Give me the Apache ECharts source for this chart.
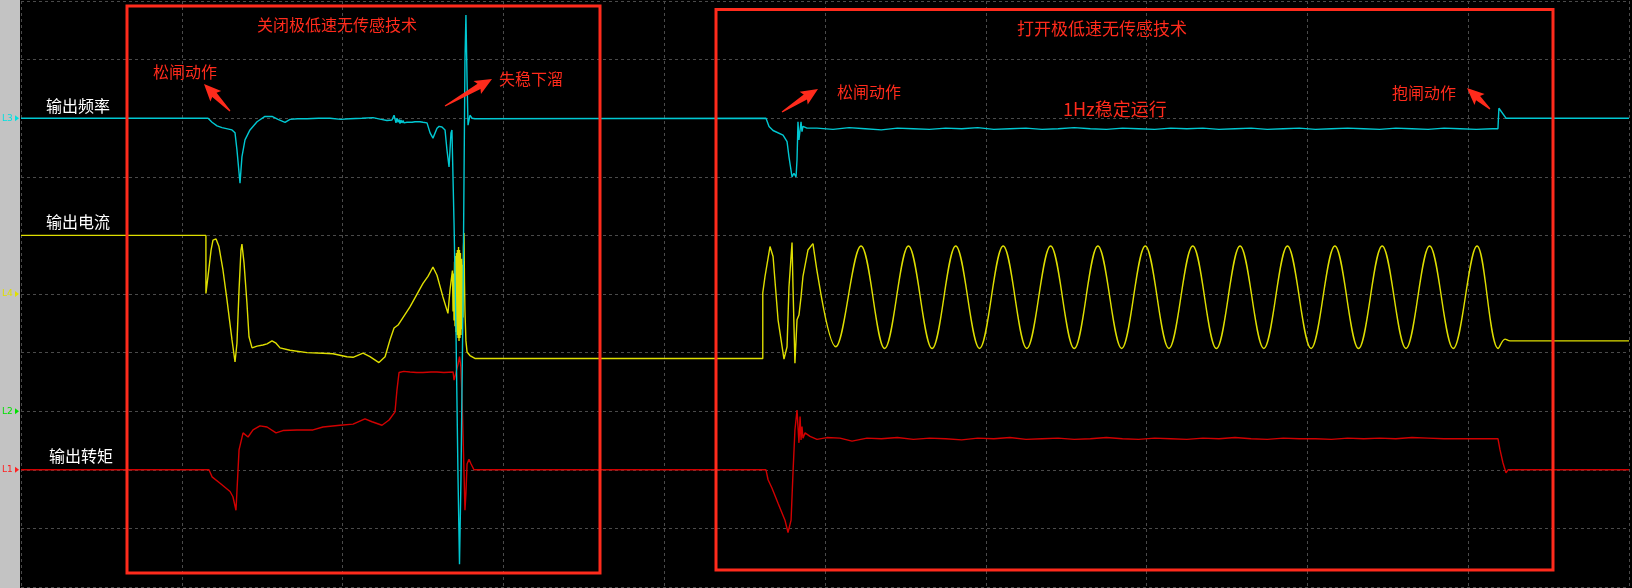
<!DOCTYPE html>
<html><head><meta charset="utf-8">
<script src="https://cdn.jsdelivr.net/npm/echarts@6/dist/echarts.min.js"></script>
<style>html,body{margin:0;padding:0;background:#000;overflow:hidden}#c{width:1632px;height:588px}</style>
</head><body><div id="c"></div>
<script>
// x: time in screen divisions (0..10), y: level in screen divisions (0..10)
const freqData = [[0,8.0],[1.163,8.0],[1.188,7.93],[1.219,7.87],[1.25,7.84],[1.312,7.80],[1.331,7.75],[1.343,7.46],[1.362,6.89],[1.374,7.34],[1.393,7.63],[1.424,7.80],[1.468,7.94],[1.517,8.03],[1.561,8.03],[1.598,7.98],[1.642,7.93],[1.673,7.98],[1.72,7.99],[1.779,7.99],[1.85,8.0],[1.922,8.0],[1.99,7.98],[2.046,7.99],[2.12,8.0],[2.189,8.01],[2.24,7.98],[2.276,7.96],[2.307,7.97],[2.320,8.05],[2.332,7.92],[2.338,8.0],[2.345,7.93],[2.351,7.98],[2.357,7.91],[2.363,7.97],[2.369,7.92],[2.376,7.96],[2.382,7.92],[2.39,7.95],[2.400,7.93],[2.41,7.95],[2.432,7.93],[2.45,7.94],[2.481,7.94],[2.50,7.93],[2.525,7.92],[2.544,7.75],[2.562,7.66],[2.587,7.83],[2.600,7.86],[2.618,7.85],[2.637,7.80],[2.649,7.46],[2.662,7.17],[2.674,7.75],[2.680,7.80],[2.693,6.21],[2.705,4.39],[2.718,1.83],[2.727,0.39],[2.736,1.83],[2.749,4.90],[2.761,8.99],[2.767,9.76],[2.774,8.65],[2.780,7.88],[2.792,8.05],[2.805,8.00],[2.823,7.99],[4.633,8.0],[4.652,7.86],[4.677,7.79],[4.739,7.71],[4.764,7.60],[4.776,7.34],[4.795,7.00],[4.807,7.06],[4.820,7.00],[4.826,7.29],[4.832,7.94],[4.838,7.63],[4.851,7.94],[4.857,7.77],[4.863,7.86],[4.888,7.83],[4.95,7.83],[5.05,7.81],[5.15,7.84],[5.25,7.82],[5.35,7.80],[5.45,7.83],[5.55,7.82],[5.65,7.81],[5.75,7.83],[5.85,7.82],[5.95,7.84],[6.05,7.81],[6.15,7.82],[6.25,7.83],[6.35,7.81],[6.45,7.82],[6.55,7.84],[6.65,7.82],[6.75,7.81],[6.85,7.83],[6.95,7.82],[7.05,7.81],[7.15,7.83],[7.25,7.82],[7.35,7.83],[7.45,7.81],[7.55,7.82],[7.65,7.83],[7.75,7.81],[7.85,7.82],[7.95,7.83],[8.05,7.81],[8.15,7.82],[8.25,7.83],[8.35,7.82],[8.45,7.81],[8.55,7.83],[8.65,7.82],[8.75,7.81],[8.85,7.83],[8.95,7.82],[9.05,7.81],[9.15,7.82],[9.185,7.82],[9.191,8.17],[9.235,8.0],[10,8.0]];

const currentData = [[0,6.0],[1.150,6.0],[1.150,5.01],[1.163,5.30],[1.182,5.75],[1.194,5.92],[1.213,5.94],[1.231,5.81],[1.256,5.41],[1.281,4.90],[1.312,4.22],[1.331,3.84],[1.343,4.16],[1.356,5.07],[1.368,5.75],[1.374,5.85],[1.387,5.53],[1.405,4.85],[1.418,4.27],[1.437,4.08],[1.468,4.11],[1.505,4.13],[1.530,4.15],[1.561,4.20],[1.586,4.16],[1.611,4.08],[1.673,4.04],[1.779,4.00],[1.878,3.99],[1.940,3.98],[2.027,3.93],[2.065,3.92],[2.127,3.99],[2.170,3.93],[2.226,3.83],[2.264,3.93],[2.295,4.22],[2.320,4.42],[2.345,4.47],[2.419,4.78],[2.500,5.18],[2.531,5.30],[2.562,5.46],[2.587,5.32],[2.624,4.95],[2.655,4.67],[2.668,5.07],[2.683,5.40],[2.687,4.70],[2.690,5.35],[2.693,4.55],[2.696,5.55],[2.699,4.45],[2.702,5.65],[2.705,4.35],[2.708,5.70],[2.711,4.30],[2.714,5.75],[2.718,4.25],[2.721,5.80],[2.724,4.20],[2.727,5.75],[2.730,4.25],[2.733,5.70],[2.736,4.30],[2.740,5.60],[2.743,4.40],[2.746,5.50],[2.749,4.60],[2.752,5.80],[2.755,6.04],[2.758,5.20],[2.761,4.70],[2.767,4.20],[2.774,4.01],[2.792,3.95],[2.823,3.90],[4.613,3.90],[4.613,5.02],[4.627,5.30],[4.658,5.81],[4.677,5.64],[4.708,4.56],[4.745,3.89],[4.764,4.10],[4.776,5.12],[4.795,5.88],[4.801,5.12],[4.813,3.82],[4.826,4.56],[4.838,4.64],[4.851,4.95],[4.863,5.30],[4.894,5.75],[4.925,5.86]];

const currentSine = [[4.925,5.86],[5.067,4.10],[5.224,5.82],[5.371,4.07],[5.519,5.82],[5.666,4.07],[5.813,5.82],[5.961,4.07],[6.108,5.82],[6.255,4.07],[6.403,5.82],[6.550,4.07],[6.697,5.82],[6.845,4.07],[6.992,5.82],[7.139,4.07],[7.287,5.82],[7.434,4.07],[7.581,5.82],[7.729,4.07],[7.876,5.82],[8.023,4.07],[8.171,5.82],[8.318,4.07],[8.465,5.82],[8.613,4.07],[8.760,5.82],[8.907,4.07],[9.055,5.82],[9.187,4.07],[9.229,4.23],[9.26,4.20],[10,4.20]];

const torqueData = [[0,2.0],[1.169,2.0],[1.188,1.88],[1.238,1.77],[1.300,1.63],[1.318,1.54],[1.337,1.31],[1.356,2.34],[1.368,2.37],[1.381,2.63],[1.393,2.63],[1.412,2.56],[1.443,2.68],[1.486,2.75],[1.530,2.73],[1.586,2.63],[1.629,2.67],[1.716,2.68],[1.816,2.68],[1.878,2.73],[1.984,2.76],[2.065,2.78],[2.139,2.87],[2.183,2.82],[2.245,2.76],[2.289,2.85],[2.326,2.99],[2.338,3.36],[2.351,3.66],[2.38,3.68],[2.419,3.67],[2.46,3.66],[2.500,3.66],[2.55,3.67],[2.587,3.67],[2.63,3.66],[2.687,3.67],[2.693,3.53],[2.705,3.53],[2.718,3.80],[2.727,3.93],[2.736,3.75],[2.743,3.20],[2.749,2.60],[2.761,1.31],[2.767,1.60],[2.774,2.10],[2.786,2.18],[2.799,2.10],[2.817,2.00],[4.633,2.0],[4.646,1.83],[4.670,1.69],[4.708,1.43],[4.751,1.14],[4.770,0.93],[4.789,1.14],[4.801,1.95],[4.813,2.68],[4.826,3.02],[4.832,3.04],[4.838,2.46],[4.845,2.91],[4.851,2.51],[4.857,2.74],[4.863,2.54],[4.876,2.63],[4.907,2.57],[4.950,2.52],[5.012,2.55],[5.093,2.54],[5.168,2.49],[5.261,2.54],[5.35,2.53],[5.45,2.55],[5.55,2.52],[5.65,2.54],[5.75,2.53],[5.85,2.51],[5.95,2.54],[6.05,2.53],[6.15,2.55],[6.25,2.52],[6.35,2.53],[6.45,2.54],[6.55,2.52],[6.65,2.53],[6.75,2.55],[6.85,2.53],[6.95,2.52],[7.05,2.54],[7.15,2.53],[7.25,2.52],[7.35,2.54],[7.45,2.53],[7.55,2.55],[7.65,2.53],[7.75,2.52],[7.85,2.54],[7.95,2.53],[8.05,2.53],[8.15,2.52],[8.25,2.54],[8.35,2.53],[8.45,2.54],[8.55,2.53],[8.65,2.55],[8.75,2.54],[8.85,2.53],[8.95,2.53],[9.05,2.53],[9.15,2.53],[9.185,2.53],[9.198,2.34],[9.216,2.12],[9.235,1.95],[9.248,2.0],[10,2.0]];

const channelNames = ['输出频率', '输出电流', '输出转矩'];
const channelMarks = ['L3', 'L4', 'L2', 'L1'];
const channelLevels = [8, 5, 3, 2];
const noteTexts = ['关闭极低速无传感技术', '打开极低速无传感技术', '松闸动作', '失稳下溜', '松闸动作', '1Hz稳定运行', '抱闸动作'];

const CYAN = '#00c8d2', YELLOW = '#dede00', RED = '#d00000', NOTE = '#ff2b1c';
const markColors = ['#00e0e0', '#e0e000', '#00e000', '#ff2020'];
const FONT = '"Noto Sans CJK SC", "Microsoft YaHei", sans-serif';

const chart = echarts.init(document.getElementById('c'), null, {renderer: 'canvas'});

const lineSeries = (data, color, smooth) => ({
  type: 'line', data, showSymbol: false, symbol: 'none', smooth: smooth || false,
  lineStyle: {color, width: 1.4}, animation: false, silent: true
});

chart.setOption({
  backgroundColor: '#000',
  animation: false,
  grid: {left: 21, right: 3, top: 1, bottom: 1},
  xAxis: {type: 'value', min: 0, max: 10, interval: 1, axisLine: {show: false}, axisTick: {show: false}, axisLabel: {show: false},
    splitLine: {show: true, lineStyle: {color: '#4a4a4a', type: [3, 3], width: 1}}},
  yAxis: {type: 'value', min: 0, max: 10, interval: 1, axisLine: {show: false}, axisTick: {show: false}, axisLabel: {show: false},
    splitLine: {show: true, lineStyle: {color: '#4a4a4a', type: [3, 3], width: 1}}},
  series: [
    lineSeries(torqueData, RED),
    lineSeries(currentData, YELLOW),
    lineSeries(currentSine, YELLOW, 0.36),
    lineSeries(freqData, CYAN)
  ]
});

function arrow(t, h) {
  const dx = h[0] - t[0], dy = h[1] - t[1], L = Math.hypot(dx, dy);
  const ux = dx / L, uy = dy / L, nx = -uy, ny = ux;
  const hl = 15, hw = 7.5, sw = 3, tw = 0.6;
  const bx = h[0] - ux * hl, by = h[1] - uy * hl;
  return {type: 'polygon', z: 100, silent: true,
    shape: {points: [[t[0] + nx * tw, t[1] + ny * tw], [bx + nx * sw, by + ny * sw], [bx + nx * hw - ux * 2, by + ny * hw - uy * 2], h,
      [bx - nx * hw - ux * 2, by - ny * hw - uy * 2], [bx - nx * sw, by - ny * sw], [t[0] - nx * tw, t[1] - ny * tw]]},
    style: {fill: NOTE}};
}
function label(text, x, y, color, size) {
  return {type: 'text', x, y, z: 100, silent: true,
    style: {text, fill: color, font: (size || 16) + 'px ' + FONT, textAlign: 'left', textVerticalAlign: 'middle', align: 'left', verticalAlign: 'middle'}};
}

const g = [];
g.push({type: 'rect', shape: {x: 0, y: 0, width: 20, height: 588}, style: {fill: '#c3c3c3'}, z: 90, silent: true});
channelMarks.forEach((m, i) => {
  const y = chart.convertToPixel({yAxisIndex: 0}, channelLevels[i]);
  g.push({type: 'text', x: 2, y, z: 100, silent: true,
    style: {text: m, fill: markColors[i], font: '9px "DejaVu Sans", sans-serif', textAlign: 'left', textVerticalAlign: 'middle', align: 'left', verticalAlign: 'middle'}});
  g.push({type: 'polygon', z: 100, silent: true, shape: {points: [[15, y - 3], [19, y], [15, y + 3]]}, style: {fill: markColors[i]}});
});
// channel names
g.push(label(channelNames[0], 46, 106, '#ffffff'));
g.push(label(channelNames[1], 46, 222, '#ffffff'));
g.push(label(channelNames[2], 49, 456, '#ffffff'));
// boxes
g.push({type: 'rect', z: 100, silent: true, shape: {x: 127, y: 6, width: 473, height: 567}, style: {fill: 'none', stroke: NOTE, lineWidth: 3}});
g.push({type: 'rect', z: 100, silent: true, shape: {x: 716, y: 9.5, width: 837, height: 560.5}, style: {fill: 'none', stroke: NOTE, lineWidth: 3}});
// notes
g.push(label(noteTexts[0], 257, 25, NOTE));
g.push(label(noteTexts[1], 1017, 29, NOTE, 17));
g.push(label(noteTexts[2], 153, 72, NOTE));
g.push(label(noteTexts[3], 499, 79, NOTE));
g.push(label(noteTexts[4], 837, 92, NOTE));
g.push(label(noteTexts[5], 1063, 109, NOTE, 18));
g.push(label(noteTexts[6], 1392, 93, NOTE));
// arrows
g.push(arrow([230, 111], [204, 84]));
g.push(arrow([445, 106], [492, 79]));
g.push(arrow([782, 112], [818, 89]));
g.push(arrow([1490, 109], [1467, 88]));

chart.setOption({graphic: {elements: g}});
</script></body></html>
